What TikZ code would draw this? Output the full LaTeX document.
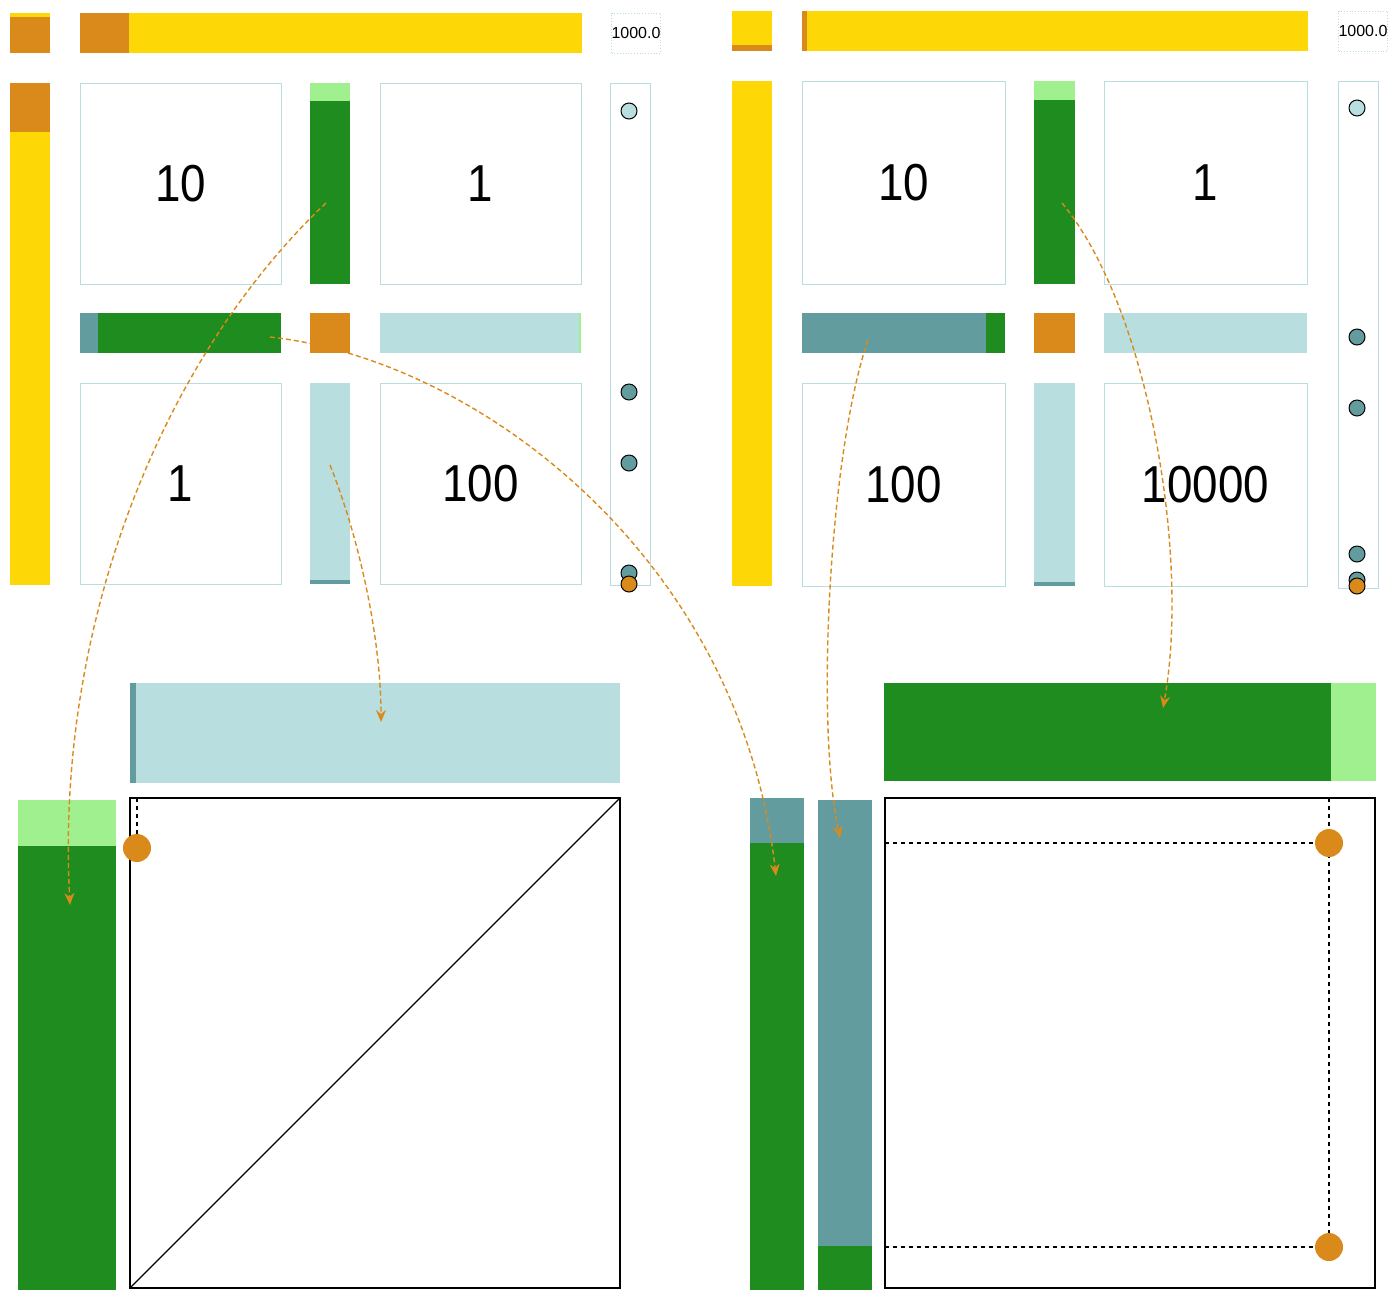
\documentclass[tikz,border=0pt]{standalone}
\usepackage{fontspec}
\setmainfont{Liberation Sans}
\usetikzlibrary{arrows.meta}

\definecolor{myyellow}{RGB}{253,216,6}
\definecolor{myorange}{RGB}{218,138,26}
\definecolor{mygreen}{RGB}{30,140,30}
\definecolor{mylight}{RGB}{160,240,144}
\definecolor{myteal}{RGB}{99,156,159}
\definecolor{mypale}{RGB}{184,222,224}

\tikzset{
  cellbox/.style={draw=mypale,line width=0.5pt,minimum width=100.5pt,minimum height=100.5pt,inner sep=0pt},
  numbox/.style={draw=mypale,densely dotted,line width=0.4pt,minimum width=21pt,minimum height=20pt,inner sep=0pt,font=\fontsize{8}{8}\selectfont},
  flow/.style={myorange,dash pattern=on 2.5pt off 1.5pt,line width=0.7pt,-{Stealth[length=6pt,width=5pt]}},
  guide/.style={black,line width=0.8pt,dash pattern=on 2pt off 2pt}
}
\newcommand{\bignum}[1]{\scalebox{0.88}[1]{\fontsize{26}{26}\selectfont #1}}

\begin{document}
\begin{tikzpicture}[x=0.5pt,y=-0.5pt]
      \useasboundingbox (0,0) rectangle (1400,1307);

      %%%%%%%%%%%%%%%%%%%%%%%%%%%%%%%%%%%%%%%%%%%%%%%%%%%%%%%%%%%%%%%%%%%%%%%%%%%
      %%%%  Left panel
      \fill[myyellow] (10,13) rectangle (50,17);
      \fill[myorange] (10,17) rectangle (50,53);
      \fill[myorange] (80,13) rectangle (129,53);
      \fill[myyellow] (129,13) rectangle (582,53);
      \node[numbox] (ltot) at (636,33) {1000.0};

      \fill[myorange] (10,83) rectangle (50,132);
      \fill[myyellow] (10,132) rectangle (50,585);

      \node[cellbox] (laa) at (180.5,183.5) {\bignum{10}};
      \node[cellbox] (lab) at (480.5,183.5) {\bignum{1}};
      \node[cellbox] (lba) at (180.5,483.5) {\bignum{1}};
      \node[cellbox] (lbb) at (480.5,483.5) {\bignum{100}};

      \fill[mylight] (310,83) rectangle (350,101);
      \fill[mygreen] (310,101) rectangle (350,284);
      \fill[myteal] (80,313) rectangle (98,353);
      \fill[mygreen] (98,313) rectangle (281,353);
      \fill[myorange] (310,313) rectangle (350,353);
      \fill[mypale] (380,313) rectangle (579,353);
      \fill[mylight] (579,313) rectangle (581,353);
      \fill[mypale] (310,383) rectangle (350,580);
      \fill[myteal] (310,580) rectangle (350,584);

      \draw[mypale,line width=0.5pt] (610,83) rectangle (650,585);
      \foreach \yy/\cc in {111/mypale,392/myteal,463/myteal,573/myteal,584/myorange}
        {\draw[fill=\cc,line width=0.5pt] (629,\yy) circle (4pt);};

      % bottom left
      \fill[mypale] (130,683) rectangle (620,783);
      \fill[myteal] (130,683) rectangle (136,783);
      \fill[mylight] (18,800) rectangle (116,846);
      \fill[mygreen] (18,846) rectangle (116,1290);
      \draw[black,line width=1pt] (130,798) rectangle (620,1288);
      \draw[black,line width=0.6pt] (130,1288) -- (620,798);
      \draw[guide] (137,798) -- (137,848);
      \fill[myorange] (137,848) circle (7pt);

      %%%%%%%%%%%%%%%%%%%%%%%%%%%%%%%%%%%%%%%%%%%%%%%%%%%%%%%%%%%%%%%%%%%%%%%%%%%
      %%%%  Right panel
      \fill[myyellow] (732,11) rectangle (772,45);
      \fill[myorange] (732,45) rectangle (772,51);
      \fill[myorange] (802,11) rectangle (807,51);
      \fill[myyellow] (807,11) rectangle (1308,51);
      \node[numbox] (rtot) at (1363,31) {1000.0};

      \fill[myyellow] (732,81) rectangle (772,586);

      \node[cellbox,minimum width=101.5pt,minimum height=101.5pt] (raa) at (903.5,182.5) {\bignum{10}};
      \node[cellbox,minimum width=101.5pt,minimum height=101.5pt] (rab) at (1205.5,182.5) {\bignum{1}};
      \node[cellbox,minimum width=101.5pt,minimum height=101.5pt] (rba) at (903.5,484.5) {\bignum{100}};
      \node[cellbox,minimum width=101.5pt,minimum height=101.5pt] (rbb) at (1205.5,484.5) {\bignum{10000}};

      \fill[mylight] (1034,81) rectangle (1075,100);
      \fill[mygreen] (1034,100) rectangle (1075,284);
      \fill[myteal] (802,313) rectangle (986,353);
      \fill[mygreen] (986,313) rectangle (1005,353);
      \fill[myorange] (1034,313) rectangle (1075,353);
      \fill[mypale] (1104,313) rectangle (1307,353);
      \fill[mypale] (1034,383) rectangle (1075,582);
      \fill[myteal] (1034,582) rectangle (1075,586);

      \draw[mypale,line width=0.5pt] (1338,81) rectangle (1378,588);
      \foreach \yy/\cc in {108/mypale,337/myteal,408/myteal,554/myteal,580/myteal,586/myorange}
        {\draw[fill=\cc,line width=0.5pt] (1357,\yy) circle (4pt);};

      % bottom right
      \fill[mygreen] (884,683) rectangle (1331,781);
      \fill[mylight] (1331,683) rectangle (1376,781);
      \fill[myteal] (750,798) rectangle (804,843);
      \fill[mygreen] (750,843) rectangle (804,1290);
      \fill[myteal] (818,800) rectangle (872,1246);
      \fill[mygreen] (818,1246) rectangle (872,1290);
      \draw[black,line width=1pt] (885,798) rectangle (1375,1288);
      \draw[guide] (885,843) -- (1329,843);
      \draw[guide] (885,1247) -- (1329,1247);
      \draw[guide] (1329,798) -- (1329,1247);
      \fill[myorange] (1329,843) circle (7pt);
      \fill[myorange] (1329,1247) circle (7pt);

      %%%%%%%%%%%%%%%%%%%%%%%%%%%%%%%%%%%%%%%%%%%%%%%%%%%%%%%%%%%%%%%%%%%%%%%%%%%
      %%%%  Flows
      \coordinate (lcolA) at (326,203);
      \coordinate (lrowA) at (270,337);
      \coordinate (lcolB) at (330,465);
      \coordinate (lrowOut) at (381,722);
      \coordinate (lcolOut) at (70,905);
      \coordinate (rrowA) at (868,340);
      \coordinate (rcolA) at (1062,203);
      \coordinate (rrowOut) at (1163,708);
      \coordinate (rleftOut) at (776,876);
      \coordinate (rmidOut) at (840,838);

      \draw[flow] (lcolA) .. controls (165,355) and (55,620) .. (lcolOut);
      \draw[flow] (lcolB) .. controls (360,540) and (381,640) .. (lrowOut);
      \draw[flow] (lrowA) .. controls (480,360) and (740,560) .. (rleftOut);
      \draw[flow] (rrowA) .. controls (830,450) and (815,720) .. (rmidOut);
      \draw[flow] (rcolA) .. controls (1150,310) and (1190,560) .. (rrowOut);
    \end{tikzpicture}
\end{document}
